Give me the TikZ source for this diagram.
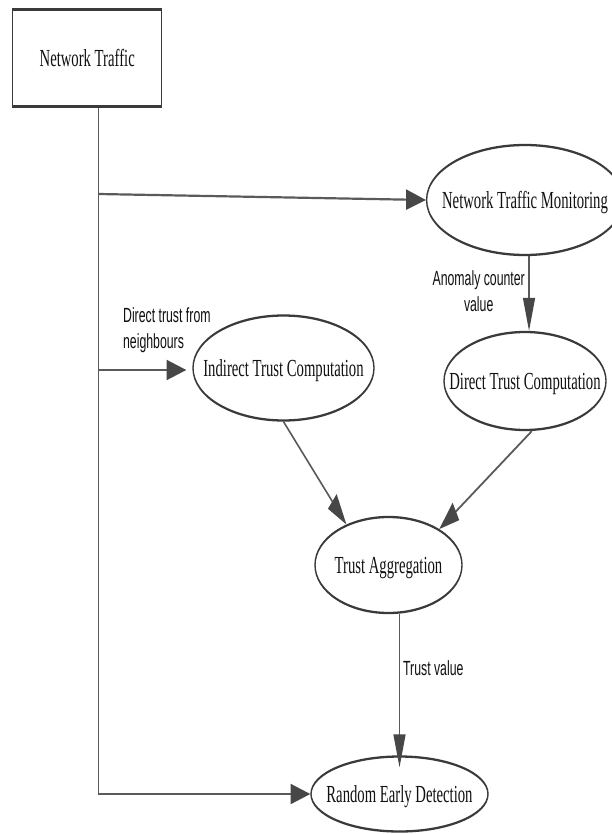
\documentclass[tikz,border=0pt]{standalone}
\usepackage{fontspec}
\setmainfont{Liberation Serif}
\setsansfont{Liberation Sans}
\usetikzlibrary{arrows.meta,shapes.geometric,calc}
\definecolor{lnc}{HTML}{5A5A5A}
\definecolor{ahc}{HTML}{474747}
\definecolor{bdc}{HTML}{3A3A3A}
\definecolor{txc}{HTML}{111111}
\begin{document}
\begin{tikzpicture}
\useasboundingbox (0,0) rectangle (611pt,-834pt);
\fill[white] (0,0) rectangle (611pt,-834pt);
\begin{scope}[transform canvas={xscale=0.6}, x=1.66667pt, y=-1pt,
  ln/.style={draw=lnc, line width=2.2pt},
  arr/.style={ln, -{Triangle[length=33pt,width=20pt,color=ahc]}},
  nodefont/.style={font=\fontsize{24.5}{29}\selectfont, text=txc},
  ell/.style={ellipse, draw=bdc, line width=2.3pt, inner sep=0pt, nodefont, text height=16pt, text depth=0pt},
  boxnode/.style={rectangle, draw=bdc, line width=2.3pt, inner sep=0pt, nodefont},
  lab/.style={font=\fontsize{20.5}{26}\selectfont\sffamily, inner sep=0pt, text=txc}]

  \node[boxnode, minimum width=248pt, minimum height=97pt] (nt) at (87.2,58) {Network Traffic};
  \node[ell, minimum width=328pt, minimum height=110pt] (ntm) at (525,200) {\makebox[0pt]{Network Traffic Monitoring}};
  \node[ell, minimum width=270pt, minimum height=98pt] (dtc) at (525,381) {\makebox[0pt]{Direct Trust Computation}};
  \node[ell, minimum width=301.7pt, minimum height=105pt] (itc) at (283.5,368) {\makebox[0pt]{Indirect Trust Computation}};
  \node[ell, minimum width=245pt, minimum height=96pt] (ta) at (388.5,565) {\makebox[0pt]{Trust Aggregation}};
  \node[ell, minimum width=295pt, minimum height=75pt] (red) at (399.5,794) {\makebox[0pt]{Random Early Detection}};

  \coordinate (c1) at (98.5,194);
  \coordinate (c2) at (98.5,370);
  \coordinate (c3) at (98.5,794);

  \draw[arr] (nt.south -| c1) -- (c3) -- (red.west);
  \draw[arr] (c1) -- (ntm.west);
  \draw[arr, shorten >=10pt] (c2) -- (c2 -| itc.west);
  \draw[arr] ([xshift=6.7pt]ntm.south) -- ([xshift=6.7pt]dtc.north);
  \draw[arr] (itc.south) -- (ta.150);
  \draw[arr] (dtc.-77) -- (ta.23);
  \draw[arr, shorten >=-12pt] (ta.south -| red.north) -- (red.north);

  \node[lab, anchor=north, align=center] (l1) at (478.7,270) {Anomaly counter\\value};
  \node[lab, anchor=north west, align=left] (l2) at (123,307) {Direct trust from\\neighbours};
  \node[lab, anchor=base west] (l3) at (403,675) {Trust value};
\end{scope}
\end{tikzpicture}
\end{document}
